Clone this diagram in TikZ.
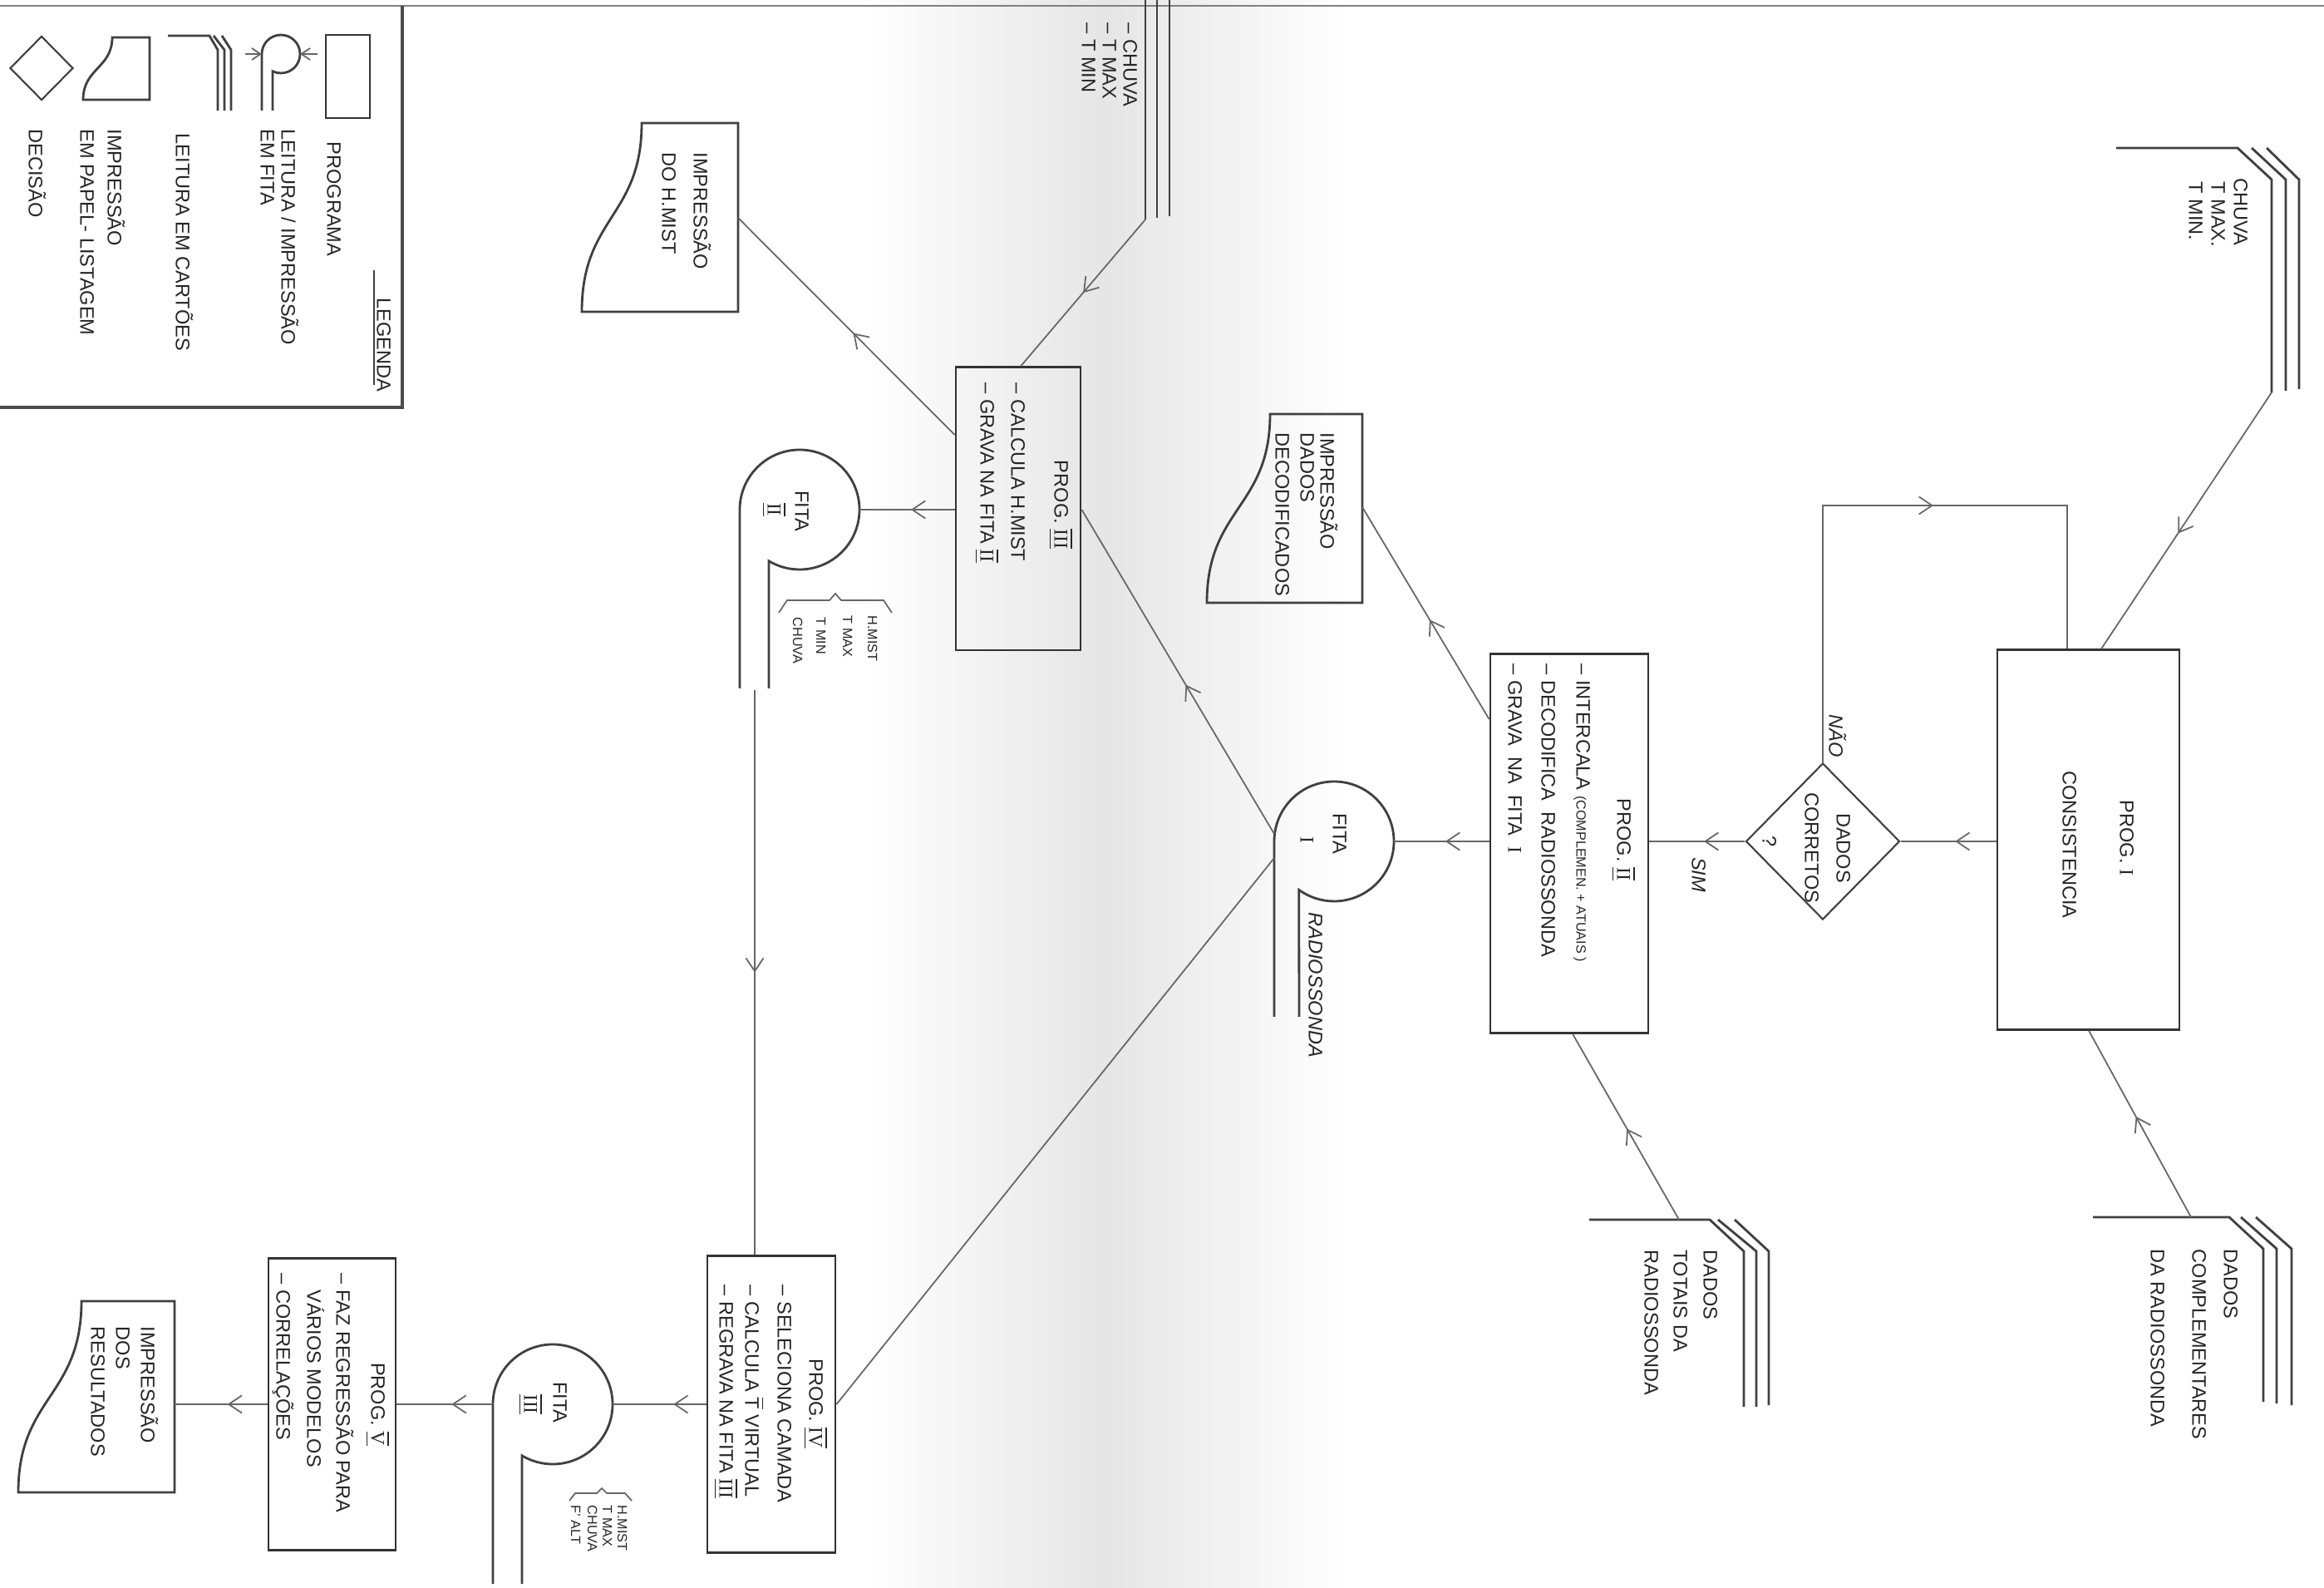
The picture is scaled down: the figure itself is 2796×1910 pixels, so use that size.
\documentclass[tikz,border=0pt]{standalone}
\usepackage{fontspec}
\setmainfont{Liberation Sans}
\newfontfamily\serifnum{Liberation Serif}
\usetikzlibrary{arrows.meta,decorations.markings,shapes.geometric}
\newcommand{\fs}{\fontsize{6.7}{8}\selectfont}
\newcommand{\fsm}{\fontsize{4.6}{6}\selectfont}
\newcommand{\rnI}{{\serifnum I}}
\newcommand{\rnb}[1]{$\overline{\underline{\hbox{\serifnum #1}}}$}
\newcommand{\tbar}{$\overline{\hbox{T}}$}
\newcommand{\dsh}{\textendash\ }
\begin{document}
\begin{tikzpicture}[x=0.01cm,y=0.01cm,yscale=-1,
  conn/.style={draw=black!60,line width=0.5pt},
  pbox/.style={draw=black!80,line width=0.8pt,rectangle,inner sep=0pt},
  ddia/.style={draw=black!75,line width=0.6pt,diamond,aspect=1,inner sep=0pt},
  heavy/.style={draw=black!75,line width=0.8pt},
  tl/.style={rotate=-90,anchor=west,inner sep=0pt,text height=4.8pt,text depth=0pt,font=\fs,text=black!85},
  tc/.style={tl,anchor=center},
  ti/.style={tc,font=\fs\itshape},
  tsm/.style={tl,font=\fsm,text height=3.4pt},
  arr/.style={postaction={decorate,decoration={markings,mark=at position #1 with {\arrow{Straight Barb[length=4.5pt,width=6pt]}}}}},
  arr/.default=0.5]
\useasboundingbox (0,0) rectangle (2796,1910);
\fill[white] (0,0) rectangle (2796,1910);
\shade[left color=white,right color=white,middle color=black!10] (1040,0) rectangle (1620,1910);

% ---------------- legend ----------------
\draw[black!50,line width=0.8pt] (0,7) -- (2796,7);
\draw[black!70,line width=1pt] (484,7) -- (484,490) -- (0,490);
\node[tl] (lgt) at (462,358) {LEGENDA};
\draw[black!75,line width=0.6pt] (450,325) -- (450,463);
\node[pbox,minimum width=0.53cm,minimum height=1.0cm] (lgp) at (418.5,92) {};
\node[tl] (lgpt) at (402,170) {PROGRAMA};
\draw[heavy] (315,133) -- (315,65) arc[start angle=180,end angle=476,radius=23] -- (328,133);
\coordinate (lgal) at (295,65); \coordinate (lgcl) at (315,65);
\coordinate (lgar) at (382,65); \coordinate (lgcr) at (361,65);
\draw[conn,-{Straight Barb[length=3pt,width=4pt]}] (lgal) -- (lgcl);
\draw[conn,-{Straight Barb[length=3pt,width=4pt]}] (lgar) -- (lgcr);
\node[tl] (lgft1) at (347,155) {LEITURA / IMPRESSÃO};
\node[tl] (lgft2) at (322,155) {EM FITA};
\draw[heavy] (202,43) -- (252,43) -- (262,60) -- (262,133);
\draw[heavy] (257,43) -- (270,60) -- (270,133);
\draw[heavy] (267,43) -- (278,60) -- (278,133);
\node[tl] (lgct) at (220,160) {LEITURA EM CARTÕES};
\draw[heavy] (180,45) -- (180,120) -- (100,120) .. controls (100,82) and (135,82) .. (135,45) -- cycle;
\node[tl] (lgdt1) at (138,155) {IMPRESSÃO};
\node[tl] (lgdt2) at (105,155) {EM PAPEL- LISTAGEM};
\node[ddia,minimum width=0.76cm,minimum height=0.77cm] (lgd) at (50,82) {};
\node[tl] (lgdd) at (43,155) {DECISÃO};

% ---------------- program boxes ----------------
\node[pbox,minimum width=2.19cm,minimum height=4.56cm] (p1) at (2512.5,1010) {};
\node[pbox,minimum width=1.90cm,minimum height=4.55cm] (p2) at (1888,1014.5) {};
\node[pbox,minimum width=1.50cm,minimum height=3.40cm] (p3) at (1225,612) {};
\node[pbox,minimum width=1.54cm,minimum height=3.56cm] (p4) at (928,1689) {};
\node[pbox,minimum width=1.53cm,minimum height=3.50cm] (p5) at (399.5,1689) {};
\node[ddia,minimum width=1.85cm,minimum height=1.88cm] (d1) at (2193,1012) {};

\node[tc] (p1a) at (2559,1008) {PROG. \rnI};
\node[tc] (p1b) at (2490,1016) {CONSISTENCIA};
\node[tc] (d1a) at (2218,1020) {DADOS};
\node[tc] (d1b) at (2180,1020) {CORRETOS};
\node[tc] (d1c) at (2129,1012) {?};
\node[ti] (nao) at (2209,885) {NÃO};
\node[ti] (sim) at (2044,1052) {SIM};

\node[tc] (p2a) at (1954,1010) {PROG. \rnb{II}};
\node[tl] (p2b) at (1905,798) {\dsh INTERCALA {\fsm(COMPLEMEN. + ATUAIS )}};
\node[tl] (p2c) at (1863,798) {\dsh DECODIFICA \ RADIOSSONDA};
\node[tl] (p2d) at (1823,798) {\dsh GRAVA \ NA \ FITA \ \rnI};

\node[tc] (p3a) at (1277,607) {PROG. \rnb{III}};
\node[tl] (p3b) at (1225,460) {\dsh CALCULA H.MIST};
\node[tl] (p3c) at (1188,460) {\dsh GRAVA NA FITA \rnb{II}};

\node[tc] (p4a) at (982,1688) {PROG. \rnb{IV}};
\node[tl] (p4b) at (944,1545) {\dsh SELECIONA CAMADA};
\node[tl] (p4c) at (905,1545) {\dsh CALCULA \tbar\ VIRTUAL};
\node[tl] (p4d) at (874,1545) {\dsh REGRAVA NA FITA \rnb{III}};

\node[tc] (p5a) at (455,1689) {PROG. \rnb{V}};
\node[tl] (p5b) at (413,1531) {\dsh FAZ REGRESSÃO PARA};
\node[tl] (p5c) at (378,1531) {\phantom{\dsh}VÁRIOS MODELOS};
\node[tl] (p5d) at (341,1531) {\dsh CORRELAÇÕES};

% ---------------- tapes ----------------
\draw[heavy] (1533,1223) -- (1533,1012) arc[start angle=180,end angle=486,radius=72] -- (1563,1223);
\coordinate (f1r) at (1677,1012);
\coordinate (f1t1) at (1533,1003);
\coordinate (f1t2) at (1533,1032);
\node[tc] (f1a) at (1612,1003) {FITA};
\node[tc] (f1b) at (1573,1010) {\rnI};
\node[tl,font=\fs\itshape] (f1c) at (1583,1097) {RADIOSSONDA};

\draw[heavy] (890,828) -- (890,613) arc[start angle=180,end angle=481,radius=72] -- (925,828);
\coordinate (f2r) at (1034,613);
\coordinate (f2b) at (908,830);
\node[tc] (f2a) at (965,615) {FITA};
\node[tc] (f2b2) at (932,613) {\rnb{II}};
\draw[conn] (937,737) -- (947,722) -- (998,722) -- (1005,714) -- (1012,722) -- (1063,722) -- (1073,737);
\node[tsm] (f2l1) at (1050,740) {H.MIST};
\node[tsm] (f2l2) at (1020,740) {T MAX};
\node[tsm] (f2l3) at (988,742) {T MIN};
\node[tsm] (f2l4) at (960,742) {CHUVA};

\draw[heavy] (593,1905) -- (593,1689) arc[start angle=180,end angle=481,radius=72] -- (628,1905);
\coordinate (f3r) at (737,1689);
\coordinate (f3t) at (593,1689);
\node[tc] (f3a) at (674,1687) {FITA};
\node[tc] (f3b) at (639,1689) {\rnb{III}};
\draw[conn] (685,1805) -- (692,1796) -- (718,1796) -- (724,1790) -- (730,1796) -- (752,1796) -- (760,1805);
\node[tsm] (f3l1) at (749,1810) {H.MIST};
\node[tsm] (f3l2) at (731,1810) {T MAX};
\node[tsm] (f3l3) at (713,1810) {CHUVA};
\node[tsm] (f3l4) at (693,1810) {F' ALT};

% ---------------- documents ----------------
\draw[heavy] (888,148) -- (888,375) -- (700,375) .. controls (700,261) and (772,261) .. (772,148) -- cycle;
\coordinate (dm) at (888,262);
\node[tl] (dm1) at (843,183) {IMPRESSÃO};
\node[tl] (dm2) at (805,183) {DO H.MIST};

\draw[heavy] (1639,498) -- (1639,725) -- (1452,725) .. controls (1452,611) and (1528,611) .. (1528,498) -- cycle;
\coordinate (dd) at (1639,610);
\node[tl] (dd1) at (1597,520) {IMPRESSÃO};
\node[tl] (dd2) at (1573,520) {DADOS};
\node[tl] (dd3) at (1543,520) {DECODIFICADOS};

\draw[heavy] (210,1565) -- (210,1795) -- (22,1795) .. controls (22,1680) and (98,1680) .. (98,1565) -- cycle;
\coordinate (dr) at (210,1689);
\node[tl] (dr1) at (178,1595) {IMPRESSÃO};
\node[tl] (dr2) at (148,1595) {DOS};
\node[tl] (dr3) at (118,1595) {RESULTADOS};

% ---------------- cards ----------------
\draw[heavy] (2546,178) -- (2692,178) -- (2733,216) -- (2733,472);
\draw[heavy] (2709,178) -- (2750,216) -- (2750,470);
\draw[heavy] (2727,178) -- (2766,216) -- (2766,468);
\coordinate (c1a) at (2733,472);
\node[tl] (c1t1) at (2696,214) {CHUVA};
\node[tl] (c1t2) at (2669,218) {T MAX.};
\node[tl] (c1t3) at (2642,218) {T MIN.};

\draw[heavy] (2518,1464) -- (2682,1464) -- (2723,1502) -- (2723,1686);
\draw[heavy] (2696,1464) -- (2739,1502) -- (2739,1688);
\draw[heavy] (2714,1464) -- (2757,1502) -- (2757,1690);
\coordinate (c2a) at (2636,1464);
\node[tl] (c2t1) at (2684,1502) {DADOS};
\node[tl] (c2t2) at (2646,1502) {COMPLEMENTARES};
\node[tl] (c2t3) at (2596,1502) {DA RADIOSSONDA};

\draw[heavy] (1912,1467) -- (2057,1467) -- (2098,1505) -- (2098,1692);
\draw[heavy] (2067,1467) -- (2113,1505) -- (2113,1692);
\draw[heavy] (2087,1467) -- (2128,1505) -- (2128,1690);
\coordinate (c3a) at (2020,1467);
\node[tl] (c3t1) at (2058,1503) {DADOS};
\node[tl] (c3t2) at (2022,1503) {TOTAIS DA};
\node[tl] (c3t3) at (1987,1503) {RADIOSSONDA};

\draw[heavy] (1378,0) -- (1378,264);
\draw[heavy] (1392,0) -- (1392,262);
\draw[heavy] (1407,0) -- (1407,260);
\coordinate (c4a) at (1378,264);
\node[tl] (c4t1) at (1360,27) {\dsh CHUVA};
\node[tl] (c4t2) at (1335,27) {\dsh T MAX};
\node[tl] (c4t3) at (1310,27) {\dsh T MIN};

% ---------------- connectors ----------------
\draw[conn,arr=0.55] (c1a) -- (p1.north -| 2528,0);
\draw[conn,arr=0.54] (c2a) -- (p1.south -| 2513,0);
\draw[conn,arr=0.43] (p1.west |- d1.east) -- (d1.east);
\draw[conn,arr=0.57] (d1.north) -- (d1.north |- 0,608) -- (2487,608) -- (p1.north -| 2487,0);
\draw[conn,arr=0.43] (d1.west) -- (p2.east |- d1.west);
\draw[conn,arr=0.49] (c3a) -- (p2.south -| 1892,0);
\draw[conn,arr=0.47] (p2.west |- 0,865) -- (dd);
\draw[conn,arr=0.46] (p2.west |- d1.west) -- (f1r);
\draw[conn,arr=0.46] (f1t1) -- (p3.east |- 0,613);
\draw[conn] (f1t2) -- (p4.east);
\draw[conn,arr=0.5] (c4a) -- (p3.north -| 1228,0);
\draw[conn,arr=0.47] (p3.west |- 0,523) -- (dm);
\draw[conn,arr=0.46] (p3.west |- 0,613) -- (f2r);
\draw[conn,arr=0.5] (f2b) -- (p4.north -| f2b);
\draw[conn,arr=0.35] (p4.west) -- (f3r);
\draw[conn,arr=0.43] (f3t) -- (p5.east |- f3t);
\draw[conn,arr=0.43] (p5.west |- f3t) -- (dr);
\end{tikzpicture}
\end{document}
